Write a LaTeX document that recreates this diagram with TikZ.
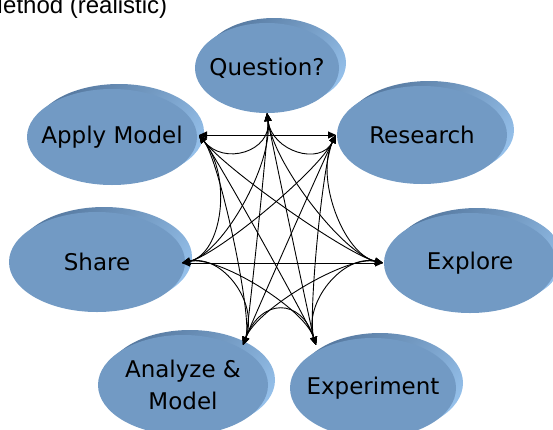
\documentclass[tikz,border=0pt]{standalone}
\usepackage{fontspec}
\setmainfont{DejaVu Sans}
\newfontfamily\titlefont{Liberation Sans}
\usetikzlibrary{calc,shapes.geometric,arrows.meta}

\definecolor{bubblefill}{HTML}{729AC4}
\definecolor{rimdark}{HTML}{5679A0}
\definecolor{rimlight}{HTML}{95C0EA}

\tikzset{
  bubble/.style={ellipse, fill=bubblefill, inner sep=0pt, outer sep=0pt},
  shell/.style={ellipse, inner sep=0pt, outer sep=0pt,
    top color=rimdark, bottom color=rimlight, shading angle=45},
  bubbletext/.style={inner sep=0pt, align=center,
    font=\fontsize{23}{32}\selectfont},
  conn/.style={draw=black, line width=0.9pt,
    {Triangle[length=8pt,width=7pt]}-{Triangle[length=8pt,width=7pt]}},
  titletext/.style={anchor=base west, inner sep=0pt,
    font=\titlefont\fontsize{24}{28}\selectfont},
}

% bevelled ellipse: name, x, y, width, height, text
\newcommand\bubblenode[6]{%
  \node[shell, minimum width=#4pt, minimum height=#5pt] (#1-rim) at (#2+7,#3-5) {};
  \node[bubble, minimum width=#4pt, minimum height=#5pt] (#1) at (#2,#3) {};
  \node[bubbletext] (#1-text) at (#1.center) {#6};
}
% curved connector bowing towards the middle of the ring
\newcommand\link[3]{%
  \draw[conn] (#1) .. controls ($(#1)!#3!(ctr)$) and ($(#2)!#3!(ctr)$) .. (#2);
}

\begin{document}
\begin{tikzpicture}[x=1pt,y=-1pt]
  \useasboundingbox (0,0) rectangle (553,429);
  \clip (0,0) rectangle (553,429);

  \node[titletext] (title) at (-17,13.5) {Method (realistic)};

  \bubblenode{qu}{267}{68}{144}{90}{Question?}
  \bubblenode{ap}{112}{137}{170}{96}{Apply Model}
  \bubblenode{re}{422}{135}{170}{98}{Research}
  \bubblenode{sh}{97}{262}{176}{100}{Share}
  \bubblenode{ex}{470}{263}{172}{100}{Explore}
  \bubblenode{an}{183}{385}{170}{100}{Analyze \&\\Model}
  \bubblenode{xp}{373}{388}{166}{100}{Experiment}

  \coordinate (ctr) at (283,240);
  \coordinate (hQu) at (qu.south);
  \coordinate (hAp) at ($(ap.east)+(2,-2)$);
  \coordinate (hRe) at ($(re.west)+(-1,0)$);
  \coordinate (hSh) at ($(sh.east)+(-3,1)$);
  \coordinate (hEx) at ($(ex.west)+(-1,0)$);
  \coordinate (hAn) at (243,345);
  \coordinate (hXp) at (316,345);

  % Question?
  \link{hQu}{hAp}{0.3}
  \link{hQu}{hRe}{0.3}
  \link{hQu}{hSh}{0.4}
  \link{hQu}{hEx}{0.4}
  \link{hQu}{hAn}{0.12}
  \link{hQu}{hXp}{0.12}
  % Apply Model
  \draw[conn] (hAp) -- (hRe);
  \link{hAp}{hSh}{0.4}
  \link{hAp}{hEx}{0.35}
  \link{hAp}{hAn}{0.25}
  \link{hAp}{hXp}{0.2}
  % Research
  \link{hRe}{hSh}{0.35}
  \link{hRe}{hEx}{0.4}
  \link{hRe}{hAn}{0.2}
  \link{hRe}{hXp}{0.25}
  % Share
  \draw[conn] (hSh) -- (hEx);
  \link{hSh}{hAn}{0.4}
  \link{hSh}{hXp}{0.35}
  % Explore
  \link{hEx}{hAn}{0.35}
  \link{hEx}{hXp}{0.4}
  % Analyze & Model
  \link{hAn}{hXp}{0.45}
\end{tikzpicture}
\end{document}
